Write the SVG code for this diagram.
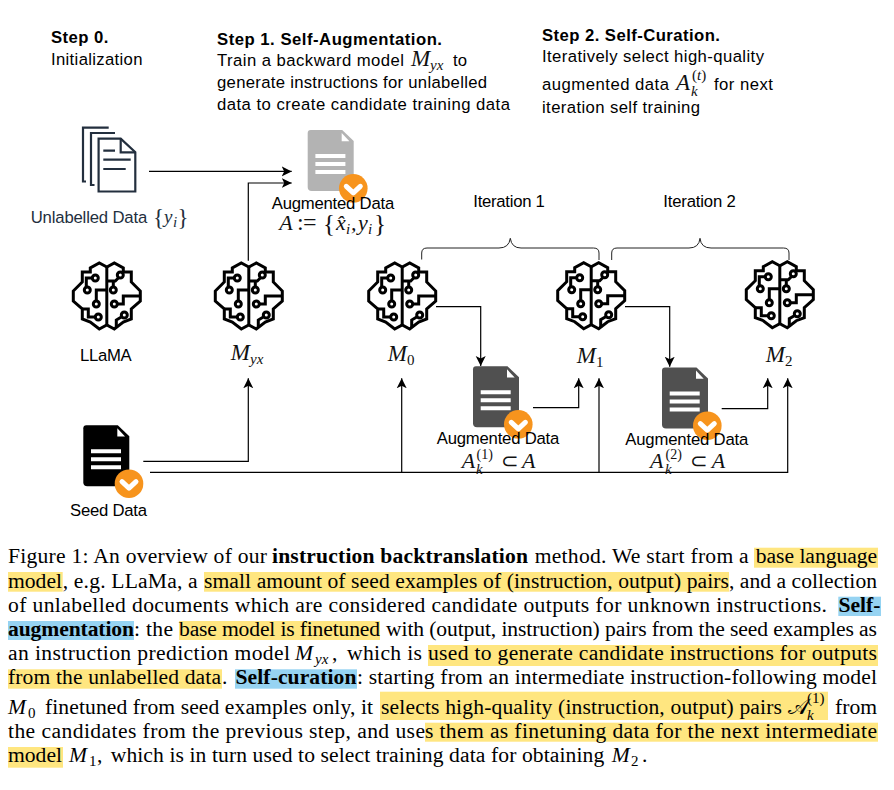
<svg xmlns="http://www.w3.org/2000/svg" xmlns:xlink="http://www.w3.org/1999/xlink" width="894" height="790" viewBox="0 0 894 790">
<style>
text{font-family:"Liberation Sans",Arial,sans-serif;font-size:16.7px;fill:#000;white-space:pre}
.b{font-weight:bold}
.m{font-family:"Liberation Serif","Times New Roman",serif;font-style:italic;font-size:22px;fill:#111}
.mr{font-family:"Liberation Serif","Times New Roman",serif;font-size:21px;fill:#111}
.s{font-family:"Liberation Serif","Times New Roman",serif;font-style:italic;font-size:15px;fill:#111}
.sr{font-family:"Liberation Serif","Times New Roman",serif;font-size:15px;fill:#111}
.c{font-family:"Liberation Serif","Times New Roman",serif;font-size:21.6px}
.ci{font-family:"Liberation Serif","Times New Roman",serif;font-size:21.6px;font-style:italic}
.cs{font-family:"Liberation Serif","Times New Roman",serif;font-size:15px;font-style:italic}
.csr{font-family:"Liberation Serif","Times New Roman",serif;font-size:15px}
.cb{font-family:"Liberation Serif","Times New Roman",serif;font-size:21.6px;font-weight:bold}
.y{fill:#ffe680}
.bl{fill:#96d3f2}
.w{stroke:#000;stroke-width:1.2;fill:none}
.br{stroke:#222;stroke-width:1;fill:none}
</style>
<defs>
<marker id="a" markerUnits="userSpaceOnUse" markerWidth="12" markerHeight="12" refX="10" refY="5.5" orient="auto">
<path d="M0,0.5 L10,5.5 L0,10.5 L2.5,5.5z" fill="#000"/>
</marker>
<g id="brain" fill="none" stroke="#000" stroke-width="3" stroke-linejoin="miter">
<path d="M34.5,5 L27,1 L18,6 V10 H10 V20 L1,29 V39 L10,47 V57 L18,60 L27,67 L34.5,63 L42,67 L51,60 L59,57 V47 L68,39 V29 L59,20 V10 H51 V6 L42,1 Z"/>
<path d="M34.5,5 V63"/>
<circle cx="23" cy="16" r="3"/><path d="M20,16 H14 V25"/><circle cx="15" cy="28" r="3"/>
<circle cx="24" cy="42" r="3"/><path d="M24,39 V28 H34.5"/>
<circle cx="26" cy="55" r="3"/><path d="M23,55 H16 V47 H10"/>
<circle cx="48" cy="13" r="3"/><path d="M46,16 L43,19 H34.5"/>
<circle cx="41" cy="28" r="3"/><path d="M41,25 V19"/>
<circle cx="42" cy="42" r="3"/><path d="M45,42 H51 V34 H68"/>
<circle cx="52" cy="53" r="3"/><path d="M49,55 L44,58 V66"/>
</g>
<g id="doc">
<path d="M3,0 H34.5 L46,11 V57 a4,4 0 0 1 -4,4 H4 a4,4 0 0 1 -4,-4 V3 a3,3 0 0 1 3,-3z"/>
<path d="M34,3 V11.3 H41.7z" fill="#fff"/>
<path d="M7.7,24 h30 v4 h-30z M7.7,32 h30 v4 h-30z M7.7,40 h30 v4 h-30z" fill="#fff"/>
</g>
<g id="check">
<circle r="14.3" fill="#f7941d"/>
<path d="M-7,-2 L0,4.5 L7,-2" fill="none" stroke="#fff" stroke-width="5" stroke-linecap="round" stroke-linejoin="round"/>
</g>
</defs>
<rect width="894" height="790" fill="#fff"/>

<g id="step0">
<text class="b" x="51" y="43" textLength="57.5">Step 0.</text>
<text x="51" y="65" textLength="91.5">Initialization</text>
</g>
<g id="step1">
<text class="b" x="217" y="44.7" textLength="225">Step 1. Self-Augmentation.</text>
<text x="217" y="66" textLength="187">Train a backward model</text>
<text class="m" x="411" y="66" style="font-size:23px">M</text><text class="s" x="430" y="70">yx</text>
<text x="453" y="66" textLength="14">to</text>
<text x="217" y="88" textLength="270">generate instructions for unlabelled</text>
<text x="217" y="110" textLength="293">data to create candidate training data</text>
</g>
<g id="step2">
<text class="b" x="542" y="40.7" textLength="178">Step 2. Self-Curation.</text>
<text x="542" y="61.7" textLength="222">Iteratively select high-quality</text>
<text x="542" y="90" textLength="127">augmented data</text>
<text class="m" x="676" y="90" style="font-size:23px">A</text>
<text class="sr" x="692" y="80">(<tspan class="s">t</tspan>)</text>
<text class="s" x="691" y="96">k</text>
<text x="714" y="90" textLength="59">for next</text>
<text x="542" y="113" textLength="158">iteration self training</text>
</g>

<g id="connectors">
<path class="w" d="M149,171.4 H291.7" marker-end="url(#a)"/>
<path class="w" d="M248.3,260.7 V183 H291.7" marker-end="url(#a)"/>
<path class="w" d="M143.3,461.3 H248.3 V378.3" marker-end="url(#a)"/>
<path class="w" d="M150,472.3 H787.7 V378.3" marker-end="url(#a)"/>
<path class="w" d="M401.7,472.3 V378.3" marker-end="url(#a)"/>
<path class="w" d="M599,472.3 V378.3" marker-end="url(#a)"/>
<path class="w" d="M436,306.7 H480.7 V366" marker-end="url(#a)"/>
<path class="w" d="M625,306.7 H669.7 V366.7" marker-end="url(#a)"/>
<path class="w" d="M533,407.7 H578.7 V378.3" marker-end="url(#a)"/>
<path class="w" d="M721.7,408.7 H767.7 V378.3" marker-end="url(#a)"/>
<path class="br" d="M421.7,259.5 V253 Q421.7,248 427,248 H499 Q509,248 510.3,238.3 Q511.6,248 521,248 H593.5 Q599,248 599,253 V260"/>
<path class="br" d="M611.7,260 V253 Q611.7,248 617,248 H689 Q699,248 700,238.3 Q701,248 711,248 H783.5 Q789,248 789,253 V260"/>
</g>

<g id="unlabelled-data">
<g fill="none" stroke="#232f3e" stroke-width="2.2">
<path d="M108.7,127.6 H83 V181.5 H86"/>
<path d="M115,133 H91 V185 H94.5"/>
<path d="M98.6,138.6 H120.7 L135.3,152.3 V191.5 H98.6Z"/>
<path d="M120.7,138.6 V152.3 H135.3"/>
<path d="M103.3,150.7 H115 M103.3,159.7 H130.7 M103.3,169 H125.7"/>
</g>
<text x="30.7" y="223.3" style="fill:#232f3e" textLength="116.5">Unlabelled Data</text>
<text class="mr" x="153" y="225" style="fill:#232f3e;font-size:23px">{</text><text class="m" x="164" y="223.3" style="fill:#232f3e;font-size:19px">y</text><text class="s" x="173" y="227" style="fill:#232f3e">i</text><text class="mr" x="177.5" y="225" style="fill:#232f3e;font-size:23px">}</text>
</g>
<g id="augmented-data">
<use xlink:href="#doc" href="#doc" x="307.7" y="130" fill="#b3b3b3"/>
<use xlink:href="#check" href="#check" x="353.3" y="188.3"/>
<text x="271.7" y="209" textLength="122.5">Augmented Data</text>
<text class="m" x="279.3" y="230">A</text><text class="mr" x="297" y="230" style="font-size:24px">:</text><text class="mr" x="303" y="230" style="font-size:24px">=</text><text class="mr" x="323" y="232" style="font-size:25px">{</text><text class="m" x="336" y="230">x̂</text><text class="s" x="346" y="234">i</text><text class="m" x="351" y="230">,</text><text class="m" x="358" y="230">y</text><text class="s" x="368" y="234">i</text><text class="mr" x="374" y="232" style="font-size:25px">}</text>
</g>
<g id="iter-labels">
<text x="473.3" y="206.7" textLength="71.5">Iteration 1</text>
<text x="663.3" y="206.7" textLength="72.5">Iteration 2</text>
</g>

<g id="llama"><use xlink:href="#brain" href="#brain" x="72.3" y="262"/><text x="80" y="361" textLength="51.7">LLaMA</text></g>
<g id="m-yx"><use xlink:href="#brain" href="#brain" x="214.3" y="262"/><text class="m" x="230.7" y="360" style="font-size:23px">M</text><text class="s" x="250" y="364">yx</text></g>
<g id="m-0"><use xlink:href="#brain" href="#brain" x="367.7" y="262"/><text class="m" x="387.7" y="361" style="font-size:23px">M</text><text class="sr" x="407" y="365">0</text></g>
<g id="m-1"><use xlink:href="#brain" href="#brain" x="556.7" y="261.7"/><text class="m" x="576.7" y="362.7" style="font-size:23px">M</text><text class="sr" x="596" y="366.7">1</text></g>
<g id="m-2"><use xlink:href="#brain" href="#brain" x="745.3" y="260.7"/><text class="m" x="765.7" y="361.7" style="font-size:23px">M</text><text class="sr" x="785" y="365.7">2</text></g>

<g id="seed-data">
<use xlink:href="#doc" href="#doc" x="83.3" y="425.3" fill="#000"/>
<use xlink:href="#check" href="#check" x="129" y="483.7"/>
<text x="70" y="516" textLength="77">Seed Data</text>
</g>
<g id="augmented-1">
<use xlink:href="#doc" href="#doc" x="473" y="366.3" fill="#505050"/>
<use xlink:href="#check" href="#check" x="518.3" y="424.3"/>
<text x="436.7" y="444" textLength="122.6">Augmented Data</text>
<text class="m" x="461.7" y="468.3">A</text><text class="sr" x="476.5" y="458.5" style="font-size:14px">(1)</text><text class="s" x="476" y="474">k</text><text class="mr" x="501" y="468.3">⊂</text><text class="m" x="522" y="468.3">A</text>
</g>
<g id="augmented-2">
<use xlink:href="#doc" href="#doc" x="662" y="367.5" fill="#505050"/>
<use xlink:href="#check" href="#check" x="707.3" y="425.7"/>
<text x="625.3" y="445" textLength="123">Augmented Data</text>
<text class="m" x="650" y="468.3">A</text><text class="sr" x="665.5" y="459" style="font-size:14px">(2)</text><text class="s" x="665" y="474">k</text><text class="mr" x="690" y="468.3">⊂</text><text class="m" x="711.7" y="468.3">A</text>
</g>

<g id="highlights">
<rect class="y" x="754" y="547.7" width="124" height="20"/>
<rect class="y" x="8" y="572" width="54.7" height="19.7"/>
<rect class="y" x="204" y="572" width="525" height="19.7"/>
<rect class="bl" x="838.3" y="596.7" width="42.7" height="19.3"/>
<rect class="bl" x="8" y="621" width="126" height="19"/>
<rect class="y" x="179" y="621" width="201" height="19"/>
<rect class="y" x="428" y="645" width="450" height="21"/>
<rect class="y" x="8" y="669.3" width="214" height="19.4"/>
<rect class="bl" x="235" y="669.3" width="122" height="19.4"/>
<rect class="y" x="380" y="691.7" width="448" height="28.3"/>
<rect class="y" x="425" y="722.7" width="453" height="19"/>
<rect class="y" x="8" y="747" width="55" height="20.7"/>
</g>
<g id="caption">
<text class="c" x="8" y="563" textLength="259">Figure 1: An overview of our</text>
<text class="cb" x="272" y="563" textLength="256">instruction backtranslation</text>
<text class="c" x="534.7" y="563" textLength="214">method. We start from a</text>
<text class="c" x="755.7" y="563" textLength="121.5">base language</text>

<text class="c" x="8" y="587.7" textLength="54">model</text>
<text class="c" x="62.7" y="587.7" textLength="135">, e.g. LLaMa, a</text>
<text class="c" x="204" y="587.7" textLength="525">small amount of seed examples of (instruction, output) pairs</text>
<text class="c" x="729" y="587.7" textLength="148">, and a collection</text>

<text class="c" x="8" y="612" textLength="819">of unlabelled documents which are considered candidate outputs for unknown instructions.</text>
<text class="cb" x="838.5" y="612" textLength="42">Self-</text>

<text class="cb" x="8" y="636" textLength="126">augmentation</text>
<text class="c" x="134" y="636" textLength="39">: the</text>
<text class="c" x="179" y="636" textLength="201">base model is finetuned</text>
<text class="c" x="386" y="636" textLength="491">with (output, instruction) pairs from the seed examples as</text>

<text class="c" x="8" y="660" textLength="282">an instruction prediction model</text>
<text class="ci" x="295" y="660">M</text><text class="cs" x="315" y="664">yx</text><text class="c" x="332" y="660">,</text>
<text class="c" x="347" y="660" textLength="75">which is</text>
<text class="c" x="428" y="660" textLength="449">used to generate candidate instructions for outputs</text>

<text class="c" x="8" y="684" textLength="213">from the unlabelled data</text>
<text class="c" x="222" y="684">.</text>
<text class="cb" x="235.5" y="684" textLength="121">Self-curation</text>
<text class="c" x="357" y="684" textLength="520">: starting from an intermediate instruction-following model</text>

<text class="ci" x="8" y="714">M</text><text class="csr" x="28" y="718">0</text>
<text class="c" x="45" y="714" textLength="328">finetuned from seed examples only, it</text>
<text class="c" x="381" y="714" textLength="401">selects high-quality (instruction, output) pairs</text>
<text class="ci" x="788" y="714" style="font-family:'Noto Sans CJK SC','DejaVu Serif',serif;font-style:normal">𝒜</text>
<text class="csr" x="807" y="703">(1)</text><text class="cs" x="807" y="720">k</text>
<text class="c" x="835" y="714" textLength="42">from</text>

<text class="c" x="8" y="738" textLength="417">the candidates from the previous step, and use</text>
<text class="c" x="425" y="738" textLength="452">s them as finetuning data for the next intermediate</text>

<text class="c" x="8" y="761.7" textLength="54">model</text>
<text class="ci" x="69" y="761.7">M</text><text class="csr" x="89" y="765.7">1</text>
<text class="c" x="97" y="761.7">,</text>
<text class="c" x="110.7" y="761.7" textLength="493.5">which is in turn used to select training data for obtaining</text>
<text class="ci" x="611.7" y="761.7">M</text><text class="csr" x="631" y="765.7">2</text>
<text class="c" x="642" y="761.7">.</text>
</g>
</svg>
